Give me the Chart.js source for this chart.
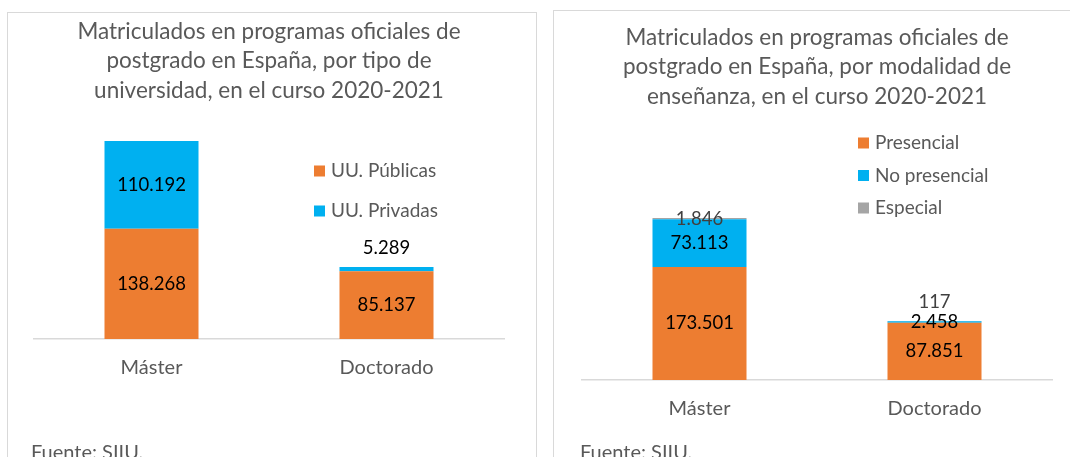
<!DOCTYPE html>
<html>
<head>
<meta charset="utf-8">
<script src="https://cdn.jsdelivr.net/npm/chart.js@4"></script>
<style>
  html, body { margin: 0; padding: 0; background: #fff; }
  body { width: 1070px; height: 457px; position: relative; overflow: hidden; font-family: Lato, sans-serif; }
  .panel { position: absolute; border: 1.5px solid #d9d9d9; box-sizing: border-box; }
  .panel canvas { position: absolute; left: 0; top: 0; }
  .fuente { position: absolute; font-size: 20px; color: #595959; }
</style>
</head>
<body>
<div class="panel" id="p1" style="left:7px; top:12px; width:530px; height:470px;">
  <canvas id="chartTipo"></canvas>
  <div class="fuente" style="left:23px; top:426px;">Fuente: SIIU.</div>
</div>
<div class="panel" id="p2" style="left:553px; top:10px; width:530px; height:470px;">
  <canvas id="chartModalidad"></canvas>
  <div class="fuente" style="left:26px; top:428px;">Fuente: SIIU.</div>
</div>
<script>
// categorías y valores (curso 2020-2021)
const categorias = ["Máster", "Doctorado"];

// gráfico 1: por tipo de universidad
const tituloTipo = ["Matriculados en programas oficiales de", "postgrado en España, por tipo de", "universidad, en el curso 2020-2021"];
const publicas = [138268, 85137];
const privadas = [110192, 5289];

// gráfico 2: por modalidad de enseñanza
const tituloModalidad = ["Matriculados en programas oficiales de", "postgrado en España, por modalidad de", "enseñanza, en el curso 2020-2021"];
const presencial = [173501, 87851];
const noPresencial = [73113, 2458];
const especial = [1846, 117];

const NARANJA = "#ed7d31";
const AZUL = "#00b0f0";
const GRIS = "#a5a5a5";
const TEXTO = "#595959";
const FUENTE = "Lato, 'Open Sans', sans-serif";

// 5289 -> "5.289"
function fmt(n) {
  return String(n).replace(/\B(?=(\d{3})+(?!\d))/g, ".");
}

// etiquetas de datos dentro de cada segmento (o encima si es muy fino)
const etiquetas = {
  id: "etiquetas",
  afterDatasetsDraw(chart, args, opts) {
    const ctx = chart.ctx;
    ctx.save();
    ctx.font = opts.size + "px " + FUENTE;
    ctx.textAlign = "center";
    ctx.textBaseline = "middle";
    chart.data.datasets.forEach((ds, i) => {
      const meta = chart.getDatasetMeta(i);
      meta.data.forEach((bar, j) => {
        const arriba = ds.encima && ds.encima[j];
        const y = arriba ? bar.y - opts.offset : (bar.y + bar.base) / 2;
        ctx.fillStyle = ds.colorEtiqueta || "#000";
        ctx.fillText(fmt(ds.data[j]), bar.x, y);
      });
    });
    ctx.restore();
  }
};

// leyenda simple a la derecha, dentro del área
const leyenda = {
  id: "leyenda",
  afterDraw(chart, args, opts) {
    const ctx = chart.ctx;
    ctx.save();
    ctx.font = opts.size + "px " + FUENTE;
    ctx.textBaseline = "middle";
    ctx.textAlign = "left";
    chart.data.datasets.forEach((ds, i) => {
      const y = opts.y + i * opts.gap;
      ctx.fillStyle = ds.backgroundColor;
      ctx.fillRect(opts.x, y - 5.5, 11, 11);
      ctx.fillStyle = TEXTO;
      ctx.fillText(ds.label, opts.x + 17, y);
    });
    ctx.restore();
  }
};

function crearGrafico(id, titulo, datasets, cfg) {
  const canvas = document.getElementById(id);
  canvas.width = cfg.w;
  canvas.height = cfg.h;
  canvas.style.width = cfg.w + "px";
  canvas.style.height = cfg.h + "px";
  return new Chart(canvas.getContext("2d"), {
    type: "bar",
    data: { labels: categorias, datasets: datasets },
    options: {
      responsive: false,
      animation: false,
      layout: { padding: cfg.padding },
      plugins: {
        legend: { display: false },
        tooltip: { enabled: false },
        title: {
          display: true,
          text: titulo,
          color: TEXTO,
          font: { family: FUENTE, size: 22.5, weight: "normal", lineHeight: 1.31 },
          padding: cfg.tituloPad
        },
        etiquetas: { size: 18.5, offset: 19 },
        leyenda: cfg.leyenda
      },
      datasets: { bar: { barPercentage: 0.4, categoryPercentage: 1 } },
      scales: {
        x: {
          stacked: true,
          grid: { display: false, drawTicks: false },
          border: { display: true, color: "#d9d9d9", width: 1.5 },
          ticks: { color: TEXTO, font: { family: FUENTE, size: 20 }, padding: 17 }
        },
        y: {
          stacked: true,
          display: false,
          min: 0,
          max: cfg.max
        }
      }
    },
    plugins: [etiquetas, leyenda]
  });
}

crearGrafico("chartTipo", tituloTipo, [
  { label: "UU. Públicas", data: publicas, backgroundColor: NARANJA },
  { label: "UU. Privadas", data: privadas, backgroundColor: AZUL, encima: [false, true] }
], {
  w: 527, h: 445, max: 293000,
  padding: { left: 26, right: 31, top: 0, bottom: 61 },
  tituloPad: { top: 4, bottom: 0 },
  leyenda: { x: 306, y: 158, gap: 40, size: 19 }
});

crearGrafico("chartModalidad", tituloModalidad, [
  { label: "Presencial", data: presencial, backgroundColor: NARANJA },
  { label: "No presencial", data: noPresencial, backgroundColor: AZUL },
  { label: "Especial", data: especial, backgroundColor: GRIS, colorEtiqueta: "#404040", encima: [false, true] }
], {
  w: 515, h: 445, max: 412000,
  padding: { left: 28, right: 17, top: 0, bottom: 18 },
  tituloPad: { top: 12, bottom: 0 },
  leyenda: { x: 304, y: 132, gap: 32.5, size: 19 }
});
</script>
</body>
</html>
